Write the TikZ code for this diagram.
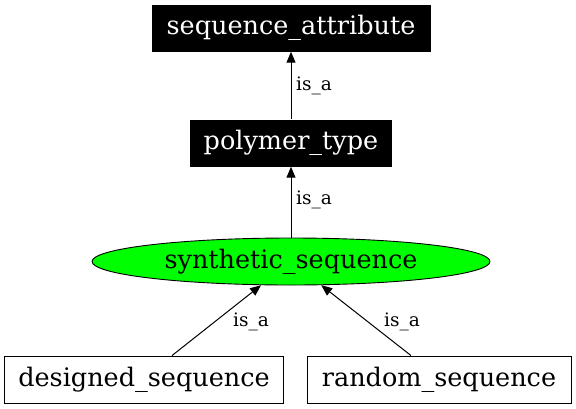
\documentclass[tikz,border=0pt]{standalone}
\usepackage{fontspec}
\setmainfont{DejaVu Serif}
\usetikzlibrary{arrows.meta,shapes.geometric}

\begin{document}
\begin{tikzpicture}[x=1pt,y=-1pt,
  darkbox/.style={fill=black,text=white,inner sep=0pt,minimum height=47pt,font=\fontsize{25.5}{28}\selectfont},
  plainbox/.style={draw=black,line width=0.9pt,fill=white,inner sep=0pt,minimum height=47pt,font=\fontsize{25.5}{28}\selectfont},
  greenoval/.style={ellipse,draw=black,line width=0.9pt,fill=green,inner sep=0pt,font=\fontsize{25.5}{28}\selectfont},
  isa/.style={-{Triangle[length=11pt,width=9pt]},line width=1pt},
  isalabel/.style={font=\fontsize{18.5}{20}\selectfont}]

\useasboundingbox (0,0) rectangle (576,408);

% Define nodes
\node[darkbox, minimum width=279pt] (attribute) at (291,28) {sequence\_attribute};
\node[darkbox, minimum width=202pt] (polymer) at (291,143) {polymer\_type};
\node[greenoval, minimum width=398pt, minimum height=47pt] (synthetic) at (291,261.5) {synthetic\_sequence};
\node[plainbox, minimum width=279pt] (designed) at (144,379.5) {designed\_sequence};
\node[plainbox, minimum width=264pt] (random) at (439,379.5) {random\_sequence};

% Draw is_a edges
\draw[isa] (polymer) -- (attribute);
\draw[isa] (synthetic) -- (polymer);
\draw[isa] ([xshift=28pt]designed.north) -- (synthetic);
\draw[isa] ([xshift=-28pt]random.north) -- (synthetic);

% Edge labels
\node[isalabel] (lab1) at (314,86) {is\_a};
\node[isalabel] (lab2) at (314,200) {is\_a};
\node[isalabel] (lab3) at (251,322) {is\_a};
\node[isalabel] (lab4) at (402,322) {is\_a};

\end{tikzpicture}
\end{document}
